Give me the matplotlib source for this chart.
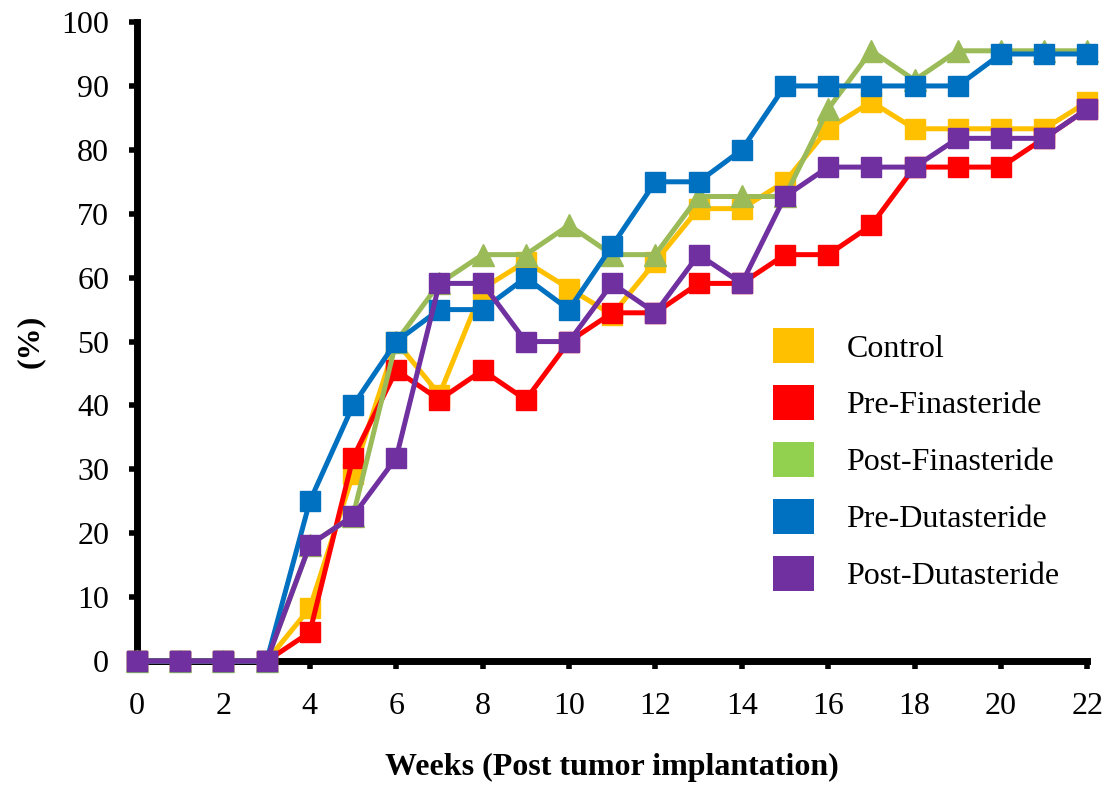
import matplotlib
matplotlib.use("Agg")
import matplotlib.pyplot as plt
from matplotlib.patches import Patch

weeks = list(range(23))

control = [0, 0, 0, 0, 8.3, 29.2, 50, 41.7, 58.3, 62.5, 58.3, 54.2, 62.5,
           70.8, 70.8, 75, 83.3, 87.5, 83.3, 83.3, 83.3, 83.3, 87.5]
pre_finasteride = [0, 0, 0, 0, 4.5, 31.8, 45.5, 40.9, 45.5, 40.9, 50, 54.5, 54.5,
                   59.1, 59.1, 63.6, 63.6, 68.2, 77.3, 77.3, 77.3, 81.8, 86.4]
post_finasteride = [0, 0, 0, 0, 18.2, 22.7, 50, 59.1, 63.6, 63.6, 68.2, 63.6, 63.6,
                    72.7, 72.7, 72.7, 86.4, 95.5, 90.9, 95.5, 95.5, 95.5, 95.5]
pre_dutasteride = [0, 0, 0, 0, 25, 40, 50, 55, 55, 60, 55, 65, 75,
                   75, 80, 90, 90, 90, 90, 90, 95, 95, 95]
post_dutasteride = [0, 0, 0, 0, 18.2, 22.7, 31.8, 59.1, 59.1, 50, 50, 59.1, 54.5,
                    63.6, 59.1, 72.7, 77.3, 77.3, 77.3, 81.8, 81.8, 81.8, 86.4]

labels = ["Control", "Pre-Finasteride", "Post-Finasteride", "Pre-Dutasteride", "Post-Dutasteride"]
colors = ["#FFC000", "#FF0000", "#9BBB59", "#0070C0", "#7030A0"]
legend_colors = ["#FFC000", "#FF0000", "#92D050", "#0070C0", "#7030A0"]
markers = ["s", "s", "^", "s", "s"]

plt.rcParams["font.family"] = ["Liberation Serif", "DejaVu Serif"]

fig = plt.figure(figsize=(11.05, 7.87), dpi=100)
ax = fig.add_axes([0.124, 0.160, 0.860, 0.812])

series = [control, pre_finasteride, post_finasteride, pre_dutasteride, post_dutasteride]
for data, c, m in zip(series, colors, markers):
    ms = 16 if m == "^" else 14
    ax.plot(weeks, data, color=c, marker=m, markersize=ms, linewidth=3.6,
            clip_on=False, zorder=3)

ax.set_xlim(0, 22)
ax.set_ylim(0, 100)
ax.set_xticks(range(0, 23, 2))
ax.set_yticks(range(0, 101, 10))
ax.tick_params(labelsize=23, width=4, length=6)
ax.tick_params(axis="x", pad=16)
ax.tick_params(axis="y", pad=14)
for side in ["top", "right"]:
    ax.spines[side].set_visible(False)
for side in ["left", "bottom"]:
    ax.spines[side].set_linewidth(5)

ax.set_xlabel("Weeks (Post tumor implantation)", fontsize=23, fontweight="bold")
ax.xaxis.set_label_coords(0.5, -0.167)
ax.xaxis.label.set_va("center")
ax.set_ylabel("(%)", fontsize=23, fontweight="bold")
ax.yaxis.set_label_coords(-0.112, 0.5)
ax.yaxis.label.set_va("center")

handles = [Patch(facecolor=c, edgecolor="none") for c in legend_colors]
fig.legend(handles, labels, loc="upper left", bbox_to_anchor=(0.685, 0.603),
           frameon=False, fontsize=23, handlelength=1.3, handleheight=1.3,
           handletextpad=1.0, labelspacing=0.68, borderpad=0)

fig.savefig("out.png", dpi=100)
